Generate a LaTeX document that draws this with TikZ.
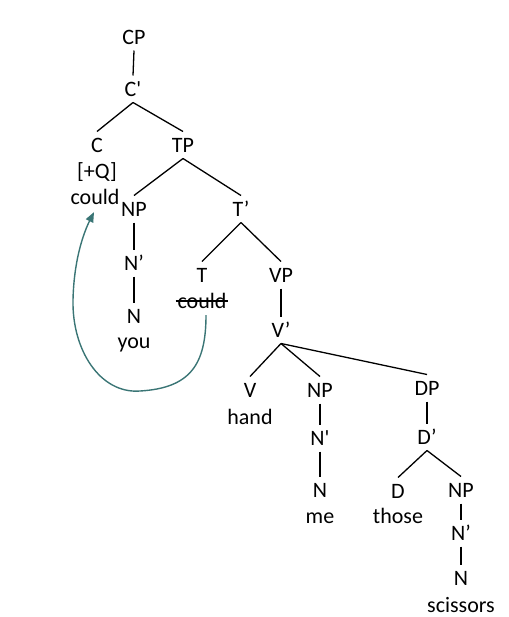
\documentclass[tikz,border=0pt]{standalone}
\usepackage{fontspec}
\setmainfont{Carlito}
\usetikzlibrary{arrows.meta}
\definecolor{movecol}{RGB}{58,117,117}
\begin{document}
\begin{tikzpicture}[x=0.5pt,y=-0.5pt,
  every node/.style={inner sep=0pt, outer sep=0pt, text height=7.1pt, text depth=0pt, font=\fontsize{11pt}{13pt}\selectfont},
  cat/.style={minimum height=13.5pt},
  edge/.style={line width=0.65pt},
  move/.style={color=movecol, line width=0.7pt, -{Triangle[length=5pt,width=4pt]}}]
\useasboundingbox (0,0) rectangle (509,617);
% CP layer
\node[cat] (cp) at (134,37) {CP};
\node[cat] (cbar) at (133,89) {C\textquotesingle};
\node[cat] (c) at (97,145) {C};
\node (feat) at (97,171) {[+Q]};
\node (couldc) at (95,197) {could};
\node[cat] (tp) at (183,145) {TP};
% subject
\node[cat] (npsubj) at (134,209) {NP};
\node[cat] (nbarsubj) at (134,263) {N’};
\node[cat] (nsubj) at (134,316) {N};
\node (you) at (134,341) {you};
% T layer
\node[cat] (tbar) at (241,209) {T’};
\node[cat] (t) at (202,275) {T};
\node (couldt) at (202,301) {could};
\node[cat] (vp) at (281,275) {VP};
\node[cat] (vbar) at (281,330) {V’};
% VP contents
\node[cat] (v) at (250,390) {V};
\node (hand) at (250,417) {hand};
\node[cat] (npobj) at (320,390) {NP};
\node[cat] (nbarobj) at (320,438) {N\textquotesingle};
\node[cat] (nobj) at (320,490) {N};
\node (me) at (320,516) {me};
\node[cat] (dp) at (427,388) {DP};
\node[cat] (dbar) at (427,437) {D’};
\node[cat] (d) at (398,491) {D};
\node (those) at (398,516) {those};
\node[cat] (npd) at (461,490) {NP};
\node[cat] (nbard) at (461,533) {N’};
\node[cat] (nd) at (461,578) {N};
\node (scissors) at (461,605) {scissors};
% branches
\foreach \a/\b in {cp/cbar, cbar/c, cbar/tp, tp/npsubj, tp/tbar, npsubj/nbarsubj, nbarsubj/nsubj,
  tbar/t, tbar/vp, vp/vbar, vbar/v, vbar/npobj, vbar/dp, npobj/nbarobj, nbarobj/nobj,
  dp/dbar, dbar/d, dbar/npd, npd/nbard, nbard/nd}
  \draw[edge] (\a.south) -- (\b.north);
% trace
\draw[edge] ([xshift=-1pt]couldt.west) -- ([xshift=1pt]couldt.east);
% head movement
\draw[move] ([xshift=2pt,yshift=-3.5pt]couldt.south) .. controls (206,365) and (190,388) .. (140,391)
  .. controls (100,394) and (72,350) .. (73,300)
  .. controls (74,255) and (86,228) .. ([xshift=-0.5pt,yshift=-4pt]couldc.south);
\end{tikzpicture}
\end{document}
